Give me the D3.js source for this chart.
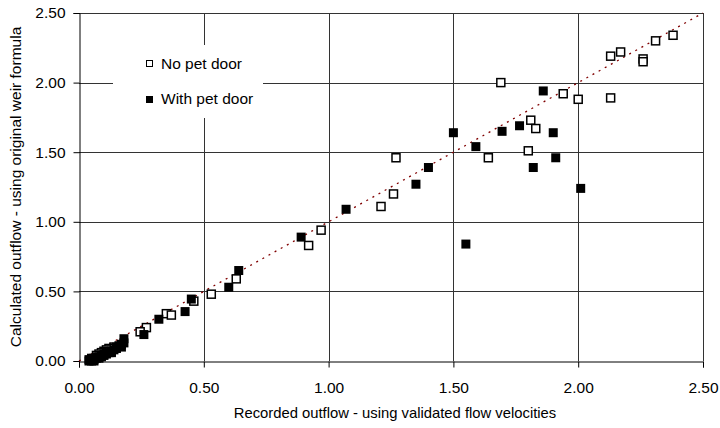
<!DOCTYPE html>
<html>
<head>
<meta charset="utf-8">
<script src="https://cdn.jsdelivr.net/npm/d3@7"></script>
<style>
  body { margin: 0; background: #fff; }
  text { font-family: "Liberation Sans", Arial, sans-serif; fill: #000; }
</style>
</head>
<body>
<svg id="chart" width="720" height="428"></svg>
<script>
// tick values shared by both axes
var ticks = [0, 0.5, 1.0, 1.5, 2.0, 2.5];

// No pet door: [recorded, calculated]
var noPetDoor = [
  [2.38, 2.34], [2.31, 2.30], [2.26, 2.17], [2.26, 2.15], [2.17, 2.22],
  [2.13, 2.19], [2.13, 1.89], [2.00, 1.88], [1.94, 1.92], [1.69, 2.00],
  [1.81, 1.73], [1.83, 1.67], [1.80, 1.51], [1.64, 1.46], [1.27, 1.46],
  [1.26, 1.20], [1.21, 1.11], [0.97, 0.94], [0.92, 0.83], [0.63, 0.59],
  [0.53, 0.48], [0.46, 0.43], [0.35, 0.34], [0.37, 0.33], [0.27, 0.24],
  [0.245, 0.21], [0.14, 0.10], [0.12, 0.09], [0.11, 0.08], [0.10, 0.07],
  [0.09, 0.06], [0.08, 0.05], [0.07, 0.04]
];

// With pet door: [recorded, calculated]
var withPetDoor = [
  [1.86, 1.94], [1.765, 1.69], [1.695, 1.65], [1.90, 1.64], [1.50, 1.64],
  [1.59, 1.54], [1.91, 1.46], [1.82, 1.39], [1.40, 1.39], [1.35, 1.27],
  [2.01, 1.24], [1.55, 0.84], [1.07, 1.09], [0.89, 0.89], [0.64, 0.65],
  [0.60, 0.53], [0.45, 0.445], [0.425, 0.355], [0.32, 0.30], [0.26, 0.19],
  [0.18, 0.16], [0.18, 0.13], [0.17, 0.12], [0.17, 0.10], [0.16, 0.11],
  [0.15, 0.10], [0.15, 0.09], [0.14, 0.08], [0.13, 0.07], [0.13, 0.06],
  [0.12, 0.06], [0.11, 0.06], [0.11, 0.05], [0.10, 0.05], [0.10, 0.04],
  [0.09, 0.04], [0.09, 0.03], [0.08, 0.03], [0.08, 0.02], [0.07, 0.03],
  [0.07, 0.02], [0.06, 0.02], [0.06, 0.01], [0.05, 0.02], [0.05, 0.01],
  [0.05, 0.00], [0.04, 0.01], [0.04, 0.00], [0.06, 0.00]
];

var seriesNames = ["No pet door", "With pet door"];

var svg = d3.select("#chart");
var margin = {left: 79, top: 13, right: 17, bottom: 67};
var w = 720 - margin.left - margin.right,
    h = 428 - margin.top - margin.bottom;

var x = d3.scaleLinear().domain([0, 2.5]).range([0, w]);
var y = d3.scaleLinear().domain([0, 2.5]).range([h, 0]);

var g = svg.append("g").attr("transform", "translate(" + margin.left + "," + margin.top + ")");

// grid
g.selectAll(".vgrid").data(ticks.slice(1)).enter().append("line")
  .attr("x1", function(d){ return Math.round(x(d)) + 0.5; })
  .attr("x2", function(d){ return Math.round(x(d)) + 0.5; })
  .attr("y1", 0).attr("y2", h)
  .attr("stroke", "#333").attr("stroke-width", 1);
g.selectAll(".hgrid").data(ticks.slice(1)).enter().append("line")
  .attr("y1", function(d){ return Math.round(y(d)) + 0.5; })
  .attr("y2", function(d){ return Math.round(y(d)) + 0.5; })
  .attr("x1", 0).attr("x2", w)
  .attr("stroke", "#333").attr("stroke-width", 1);

// axes
var xAxis = g.append("g").attr("transform", "translate(0," + (Math.round(h) + 0.5) + ")")
  .call(d3.axisBottom(x).tickValues(ticks).tickFormat(d3.format(".2f")).tickSize(6).tickPadding(14));
var yAxis = g.append("g").attr("transform", "translate(0.5,0)")
  .call(d3.axisLeft(y).tickValues(ticks).tickFormat(d3.format(".2f")).tickSize(6).tickPadding(8));
[xAxis, yAxis].forEach(function(a){
  a.select(".domain").attr("stroke", "#000");
  a.selectAll(".tick line").attr("stroke", "#000");
  a.selectAll(".tick text").style("font-size", "15.5px").attr("fill", "#000")
    .style("font-family", "'Liberation Sans', Arial, sans-serif");
});

// legend box (white, covers grid)
var leg = g.append("g");
leg.append("rect").attr("x", 34).attr("y", 32).attr("width", 150).attr("height", 73).attr("fill", "#fff");

// 1:1 line
g.append("line")
  .attr("x1", x(0)).attr("y1", y(0)).attr("x2", x(2.5)).attr("y2", y(2.5))
  .attr("stroke", "#800000").attr("stroke-width", 1.3).attr("stroke-dasharray", "2,5");

var s = 8;
g.selectAll(".open").data(noPetDoor).enter().append("rect")
  .attr("x", function(d){ return x(d[0]) - s/2; })
  .attr("y", function(d){ return y(d[1]) - s/2; })
  .attr("width", s).attr("height", s)
  .attr("fill", "#fff").attr("stroke", "#000").attr("stroke-width", 1.5);

g.selectAll(".filled").data(withPetDoor).enter().append("rect")
  .attr("x", function(d){ return x(d[0]) - (s+1)/2; })
  .attr("y", function(d){ return y(d[1]) - (s+1)/2; })
  .attr("width", s+1).attr("height", s+1)
  .attr("fill", "#000");

// legend entries
leg.append("rect").attr("x", 67.5).attr("y", 47.5).attr("width", 6).attr("height", 6)
  .attr("fill", "#fff").attr("stroke", "#000").attr("stroke-width", 1);
leg.append("text").attr("x", 82).attr("y", 56).style("font-size", "15.5px").text(seriesNames[0]);
leg.append("rect").attr("x", 67).attr("y", 83).attr("width", 7).attr("height", 7).attr("fill", "#000");
leg.append("text").attr("x", 82).attr("y", 91).style("font-size", "15.5px").text(seriesNames[1]);

// axis titles
svg.append("text").attr("x", margin.left + w / 2 + 4).attr("y", 418)
  .attr("text-anchor", "middle").style("font-size", "14.8px")
  .text("Recorded outflow - using validated flow velocities");
svg.append("text").attr("transform", "translate(21,187) rotate(-90)")
  .attr("text-anchor", "middle").style("font-size", "15.5px")
  .text("Calculated outflow - using original weir formula");
</script>
</body>
</html>
